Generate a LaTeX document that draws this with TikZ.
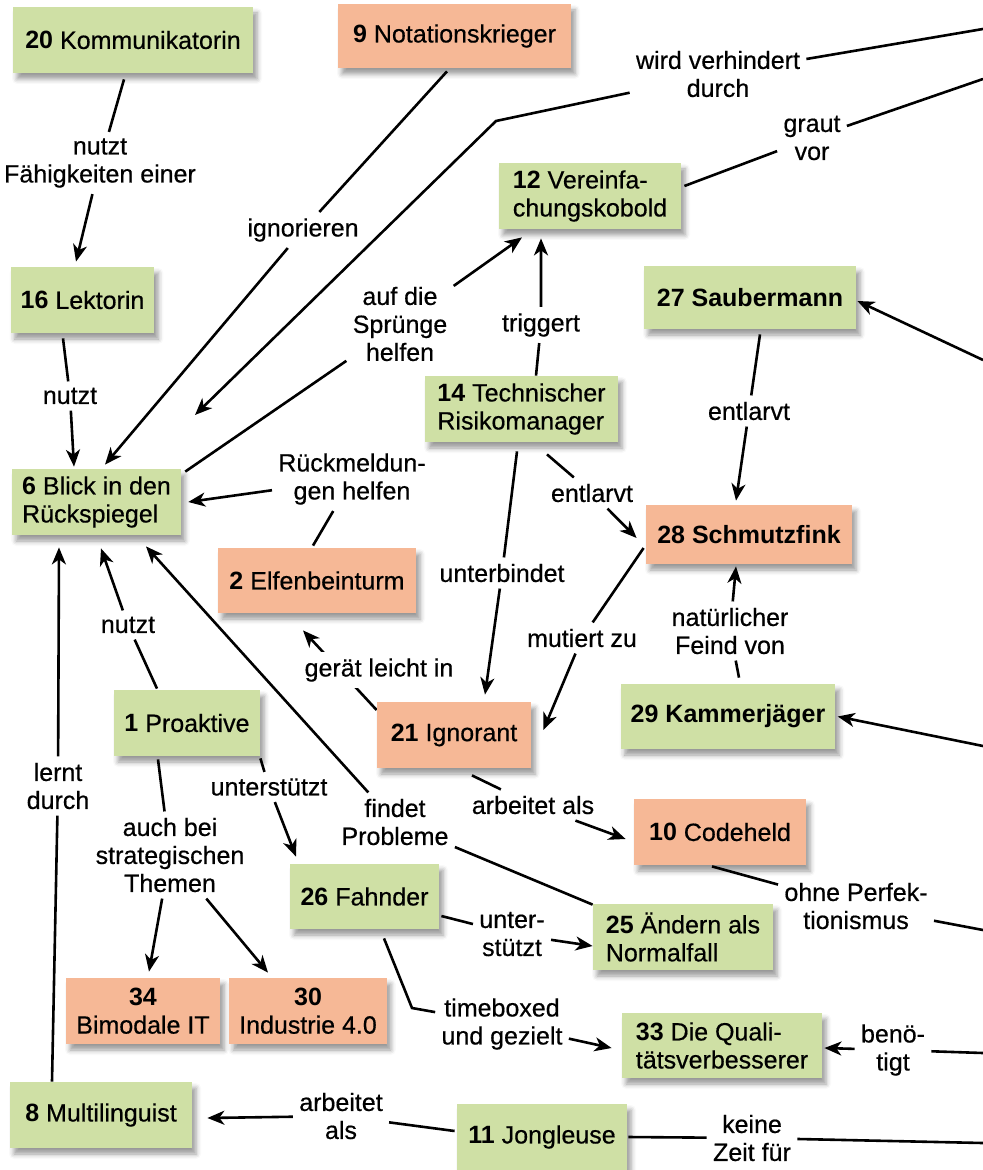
\documentclass[tikz,border=0pt]{standalone}
\usepackage{fontspec}
\setmainfont{Liberation Sans}[UprightFeatures={FakeBold=0.5}]
\usetikzlibrary{arrows.meta,calc,shadows.blur,backgrounds}
\definecolor{gruen}{RGB}{207,224,165}
\definecolor{lachs}{RGB}{246,184,150}
\tikzset{
	karte/.style={rectangle, inner xsep=5pt, inner ysep=0pt, minimum height=33pt, font=\fontsize{12.5}{14}\selectfont,
		blur shadow={shadow xshift=2pt, shadow yshift=-3pt, shadow blur radius=2.5pt, shadow opacity=40}},
	gut/.style={karte, fill=gruen},
	boese/.style={karte, fill=lachs},
	rel/.style={inner sep=3pt, align=center, font=\fontsize{12.5}{14}\selectfont},
	pfeil/.style={line width=1.3pt, -{Stealth[length=8.5pt,width=7pt,inset=2.5pt]}},
	linie/.style={line width=1.3pt}
}
\begin{document}
\begin{tikzpicture}[x=0.5pt, y=-0.5pt]
			\useasboundingbox (0,0) rectangle (983,1170);
			% Karten
			\node[gut, minimum width=120pt] (kom) at (133,40) {\textbf{20} Kommunikatorin};
			\node[boese, minimum width=116.5pt, minimum height=32pt] (notat) at (454.5,36) {\textbf{9} Notationskrieger};
			\node[gut, minimum width=70.5pt] (lek) at (82.5,300) {\textbf{16} Lektorin};
			\node[gut, minimum width=91pt, align=left] (verein) at (590,196) {\textbf{12} Vereinfa-\\chungskobold};
			\node[gut, minimum width=106pt, minimum height=31.5pt, font=\fontsize{12.5}{14}\selectfont\bfseries] (saub) at (750,297.5) {27 Saubermann};
			\node[gut, minimum width=96.5pt, align=left] (risk) at (521.5,409) {\textbf{14} Technischer\\Risikomanager};
			\node[gut, minimum width=83.5pt, align=left] (blick) at (96.5,502) {\textbf{6} Blick in den\\Rückspiegel};
			\node[boese, minimum width=99pt, minimum height=32.5pt] (elf) at (317,580.5) {\textbf{2} Elfenbeinturm};
			\node[boese, minimum width=103pt, minimum height=29.5pt, font=\fontsize{12.5}{14}\selectfont\bfseries] (schm) at (749,534.5) {28 Schmutzfink};
			\node[gut, minimum width=73pt] (pro) at (187,723) {\textbf{1} Proaktive};
			\node[boese, minimum width=77pt] (ign) at (454,735) {\textbf{21} Ignorant};
			\node[gut, minimum width=106pt, minimum height=32.5pt, font=\fontsize{12.5}{14}\selectfont\bfseries] (kam) at (728,716.5) {29 Kammerjäger};
			\node[boese, minimum width=86pt] (code) at (720,832) {\textbf{10} Codeheld};
			\node[gut, minimum width=74.5pt, minimum height=32.5pt] (fahnd) at (364.5,896.5) {\textbf{26} Fahnder};
			\node[gut, minimum width=90pt, align=left] (normal) at (683,937) {\textbf{25} Ändern als\\Normalfall};
			\node[boese, minimum width=77pt, align=center] (bim) at (143,1011) {\textbf{34}\\Bimodale IT};
			\node[boese, minimum width=77pt, align=center] (ind) at (308,1011) {\textbf{30}\\Industrie 4.0};
			\node[gut, minimum width=100pt, minimum height=32.5pt, align=left] (qual) at (722,1045.5) {\textbf{33} Die Quali-\\tätsverbesserer};
			\node[gut, minimum width=91pt] (mult) at (101,1115) {\textbf{8} Multilinguist};
			\node[gut, minimum width=85pt] (jong) at (542,1137) {\textbf{11} Jongleuse};
			% Beschriftungen
			\node[rel] (lNutztF) at (100,163) {nutzt\\Fähigkeiten einer};
			\node[rel] (lNutztL) at (70,396) {nutzt};
			\node[rel] (lIgn) at (303,230) {ignorieren};
			\node[rel] (lWvd) at (718,74) {wird verhindert\\durch};
			\node[rel] (lGraut) at (812,138) {graut\\vor};
			\node[rel] (lSpr) at (400,324) {auf die\\Sprünge\\helfen};
			\node[rel] (lTrig) at (541,325) {triggert};
			\node[rel] (lEntl1) at (749,411) {entlarvt};
			\node[rel] (lUnterb) at (502,573) {unterbindet};
			\node[rel] (lEntl2) at (592,493) {entlarvt};
			\node[rel] (lMut) at (582,638) {mutiert zu};
			\node[rel] (lFeind) at (730,631) {natürlicher\\Feind von};
			\node[rel] (lRueck) at (352,479) {Rückmeldun-\\gen helfen};
			\node[rel, fill=white] (lGeraet) at (379,670) {gerät leicht in};
			\node[rel] (lNutztP) at (128,625) {nutzt};
			\node[rel] (lLernt) at (58,786) {lernt\\durch};
			\node[rel] (lUnterst) at (269,787) {unterstützt};
			\node[rel] (lThemen) at (170,855) {auch bei\\strategischen\\Themen};
			\node[rel] (lFindet) at (395,822) {findet\\Probleme};
			\node[rel] (lArbA) at (533,805) {arbeitet als};
			\node[rel] (lOhne) at (856,906) {ohne Perfek-\\tionismus};
			\node[rel] (lUnter2) at (512,934) {unter-\\stützt};
			\node[rel] (lTime) at (502,1024) {timeboxed\\und gezielt};
			\node[rel] (lBenoe) at (893,1050) {benö-\\tigt};
			\node[rel] (lArbB) at (341,1116) {arbeitet\\als};
			\node[rel] (lKeine) at (752,1138) {keine\\Zeit für};
			% freie Enden
			\coordinate (rA) at (983,29);
			\coordinate (rB) at (983,79);
			\coordinate (rC) at (983,360);
			\coordinate (rD) at (983,746);
			\coordinate (rE) at (983,930);
			\coordinate (rF) at (983,1053);
			\coordinate (rG) at (983,1143);
			\coordinate (knickW) at (496,121);
			\coordinate (spitzeW) at (195,415);
			\coordinate (knickT) at (412,1008);
			% Verbindungen
			\draw[pfeil] ($(kom.south)+(-9,6)$) -- (lNutztF) -- ($(lek.north)+(-6.5,-5)$);
			\draw[pfeil] ($(lek.south)+(-19.5,5)$) -- (lNutztL) -- ($(blick.north)+(-22.5,-2)$);
			\draw[pfeil] ($(notat.south)+(-7.5,3)$) -- (lIgn) -- ($(blick.north)+(8.5,-4)$);
			\draw[pfeil] (rA) -- (lWvd) -- (knickW) -- (spitzeW);
			\draw[linie] (rB) -- (lGraut) -- ($(verein.east)+(3,-10)$);
			\draw[pfeil] ($(blick.north east)+(4,3)$) -- (lSpr) -- ($(verein.south)+(-68,8)$);
			\draw[pfeil] ($(risk.north)+(14.5,0)$) -- (lTrig) -- ($(verein.south)+(-49,9)$);
			\draw[pfeil] ($(saub.south)+(10,5)$) -- (lEntl1) -- ($(schm.north)+(-13,-4)$);
			\draw[pfeil] (rC) -- ($(saub.east)+(1,3.5)$);
			\draw[pfeil] ($(risk.south)+(-4.5,9)$) -- (lUnterb) -- ($(ign.north)+(31,-7)$);
			\draw[pfeil] ($(risk.south)+(25.5,12)$) -- (lEntl2) -- ($(schm.west)+(-9,3.5)$);
			\draw[pfeil] ($(schm.west)+(-2,13.5)$) -- (lMut) -- ($(ign.east)+(12,-5)$);
			\draw[pfeil] ($(kam.north)+(11,-6)$) -- (lFeind) -- ($(schm.south)+(-13,2)$);
			\draw[pfeil] (rD) -- ($(kam.east)+(2,0)$);
			\draw[pfeil] ($(elf.north)+(-4,-2)$) -- (lRueck) -- ($(blick.east)+(7,0)$);
			\begin{scope}[on background layer]
			\draw[pfeil] ($(ign.west)+(0,-25)$) -- ($(elf.south)+(-14,17)$);
			\end{scope}
			\draw[pfeil] ($(pro.north)+(-30,-1)$) -- (lNutztP) -- ($(blick.south)+(4.5,13)$);
			\draw[pfeil] ($(mult.north)+(-49,0)$) -- (lLernt) -- ($(blick.south)+(-37.5,12)$);
			\draw[pfeil] ($(pro.south east)+(0,2)$) -- (lUnterst) -- ($(fahnd.north)+(-68.5,-7)$);
			\draw[linie] ($(pro.south)+(-29,3)$) -- (lThemen);
			\draw[pfeil] (lThemen) -- ($(bim.north)+(6,-6)$);
			\draw[pfeil] (lThemen) -- ($(ind.north)+(-40,-5)$);
			\draw[pfeil] ($(normal.north west)+(0,1)$) -- (lFindet) -- ($(blick.south)+(49.5,11)$);
			\draw[pfeil] ($(ign.south)+(18,7)$) -- (lArbA) -- ($(code.west)+(-8,7)$);
			\draw[linie] ($(code.south)+(-8,1)$) -- (lOhne) -- (rE);
			\draw[pfeil] ($(fahnd.east)+(2,19.5)$) -- (lUnter2) -- ($(normal.west)+(0,9)$);
			\draw[pfeil] ($(fahnd.south)+(19.5,9)$) -- (knickT) -- (lTime) -- ($(qual.west)+(-10,2.5)$);
			\draw[pfeil] (rF) -- (lBenoe) -- ($(qual.east)+(2,2.5)$);
			\draw[pfeil] ($(jong.west)+(-2,-6)$) -- (lArbB) -- ($(mult.east)+(15,3)$);
			\draw[linie] ($(jong.east)+(1,0)$) -- (lKeine) -- (rG);
\end{tikzpicture}
\end{document}
